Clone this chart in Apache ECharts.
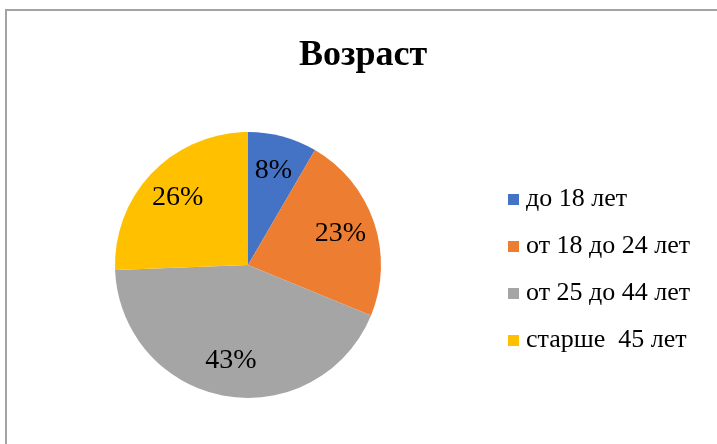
<!DOCTYPE html>
<html>
<head>
<meta charset="utf-8">
<script src="https://cdn.jsdelivr.net/npm/echarts@6/dist/echarts.min.js"></script>
<style>
  html, body { margin: 0; padding: 0; background: #fff; }
  #frame {
    position: absolute;
    left: 5px;
    top: 9px;
    width: 800px;
    height: 500px;
    border-top: 2px solid #a3a3a3;
    border-left: 2px solid #a3a3a3;
  }
  #ageChart {
    position: absolute;
    left: 0;
    top: 0;
    width: 717px;
    height: 444px;
  }
</style>
</head>
<body>
<div id="frame"></div>
<div id="ageChart"></div>
<script>
const titleText = 'Возраст';
const categories = ['до 18 лет', 'от 18 до 24 лет', 'от 25 до 44 лет', 'старше  45 лет'];
const shares = [8.4, 22.8, 43.2, 25.6];
const colors = ['#4472C4', '#ED7D31', '#A5A5A5', '#FFC000'];

const serif = '"Liberation Serif", "DejaVu Serif", serif';

const pieData = categories.map((name, i) => ({
  name,
  value: shares[i],
  itemStyle: { color: colors[i] },
}));

const myChart = echarts.init(document.getElementById('ageChart'), null, { renderer: 'canvas' });
const option = {
  animation: false,
  backgroundColor: 'transparent',
  title: {
    text: titleText,
    left: 358,
    top: 33,
    textAlign: 'center',
    textStyle: {
      fontFamily: serif,
      fontWeight: 'bold',
      fontSize: 36,
      color: '#000',
    },
  },
  legend: {
    orient: 'vertical',
    left: 503,
    top: 181,
    data: categories,
    icon: 'rect',
    itemWidth: 11,
    itemHeight: 11,
    itemGap: 20,
    selectedMode: false,
    textStyle: {
      fontFamily: serif,
      fontSize: 26,
      lineHeight: 27,
      color: '#000',
      padding: [0, 0, 0, 2],
    },
  },
  series: [
    {
      type: 'pie',
      center: [248, 265],
      radius: 133,
      startAngle: 90,
      clockwise: true,
      silent: true,
      label: { show: false },
      labelLine: { show: false },
      data: pieData,
    },
    {
      // label-only ring so the percents sit further out than the half radius
      type: 'pie',
      center: [248, 265],
      radius: [56, 133],
      startAngle: 90,
      clockwise: true,
      silent: true,
      percentPrecision: 0,
      itemStyle: { color: 'transparent' },
      label: {
        show: true,
        position: 'inside',
        formatter: '{d}%',
        fontFamily: serif,
        fontSize: 28,
        color: '#000',
      },
      labelLine: { show: false },
      data: categories.map((name, i) => ({ name, value: shares[i] })),
    },
  ],
};

myChart.setOption(option);
</script>
</body>
</html>
